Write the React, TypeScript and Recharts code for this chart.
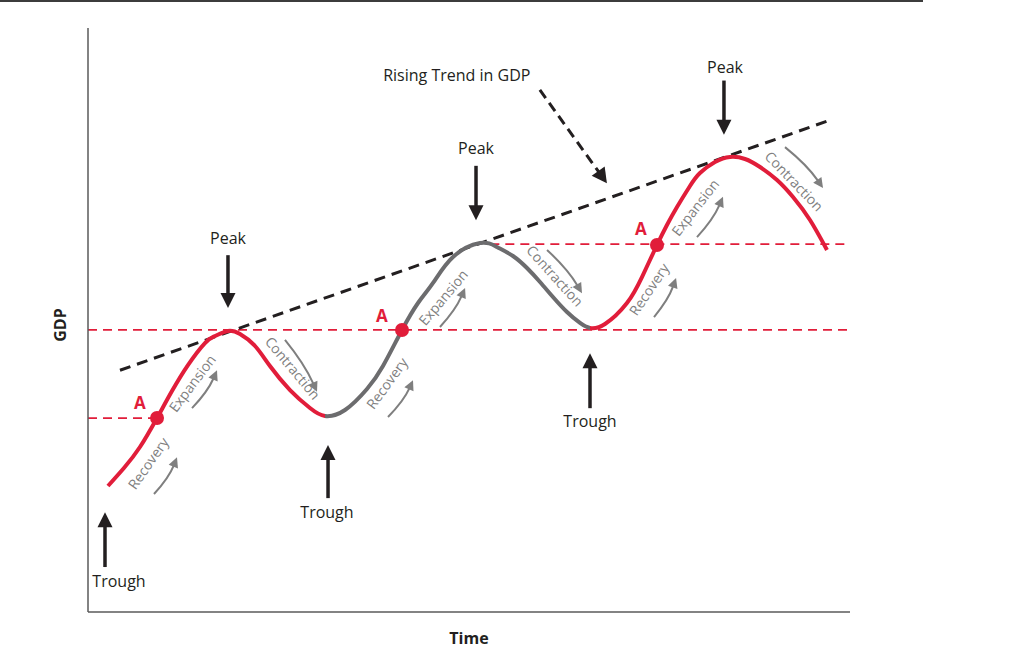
import React from 'react';
import { ComposedChart, Line, XAxis, YAxis, ReferenceLine, ReferenceDot } from 'recharts';

const FONT = '"Open Sans", "Noto Sans", sans-serif';
const RED = '#e11d3a';
const GRAY = '#6c6c6e';
const TEXT_GRAY = '#7f7f7f';
const INK = '#231f20';

// ---- GDP path (time 0-100, GDP index 0-100) ----
const firstCycle = [
  { t: 2.62, g: 21.58 }, { t: 4.72, g: 24.66 }, { t: 6.82, g: 28.25 }, { t: 9.06, g: 33.22 },
  { t: 11.02, g: 37.84 }, { t: 13.12, g: 42.29 }, { t: 15.35, g: 46.06 }, { t: 16.67, g: 47.26 },
  { t: 18.37, g: 48.12 }, { t: 19.95, g: 47.6 }, { t: 21.92, g: 45.55 }, { t: 23.88, g: 42.12 },
  { t: 26.51, g: 38.01 }, { t: 29.13, g: 34.93 }, { t: 31.1, g: 33.56 },
];
const secondCycle = [
  { t: 31.1, g: 33.56 }, { t: 33.73, g: 34.59 }, { t: 36.61, g: 38.18 }, { t: 38.71, g: 42.12 },
  { t: 41.21, g: 48.29 }, { t: 43.31, g: 52.91 }, { t: 45.28, g: 56.34 }, { t: 47.9, g: 60.79 },
  { t: 51.44, g: 63.18 }, { t: 53.67, g: 62.5 }, { t: 55.77, g: 60.96 }, { t: 57.61, g: 58.9 },
  { t: 59.32, g: 56.51 }, { t: 61.02, g: 53.94 }, { t: 62.86, g: 51.37 }, { t: 64.57, g: 49.49 },
  { t: 65.88, g: 48.63 },
];
const thirdCycle = [
  { t: 65.88, g: 48.63 }, { t: 67.85, g: 49.32 }, { t: 70.73, g: 52.91 }, { t: 72.7, g: 57.36 },
  { t: 74.67, g: 62.84 }, { t: 75.98, g: 66.27 }, { t: 77.3, g: 69.35 }, { t: 79.0, g: 72.95 },
  { t: 80.31, g: 75.17 }, { t: 82.28, g: 77.05 }, { t: 84.25, g: 77.91 }, { t: 86.22, g: 77.57 },
  { t: 88.19, g: 76.2 }, { t: 90.42, g: 73.97 }, { t: 92.52, g: 71.06 }, { t: 94.75, g: 67.12 },
  { t: 96.98, g: 61.99 },
];

// ---- reference levels and trend ----
const levelLines = [
  { from: 0, to: 9.06, g: 33.2 },
  { from: 0, to: 100, g: 48.3 },
  { from: 52.8, to: 100, g: 63.0 },
];
const trendLine = [{ t: 4.2, g: 41.4 }, { t: 97.1, g: 84.1 }];
const trendArrow = [{ t: 59.3, g: 89.4 }, { t: 68.1, g: 73.4 }];
const trendLabel = { text: 'Rising Trend in GDP', t: 48.4, g: 91.95 };

// ---- points A ----
const pointsA = [{ t: 9.06, g: 33.22 }, { t: 41.21, g: 48.29 }, { t: 74.67, g: 62.84 }];
const labelsA = [{ t: 6.82, g: 35.8 }, { t: 38.58, g: 50.7 }, { t: 72.57, g: 65.6 }];

// ---- peaks & troughs ----
const peakLabels = [{ t: 18.37, g: 64.0 }, { t: 50.92, g: 79.45 }, { t: 83.6, g: 93.3 }];
const peakArrows = [
  { t: 18.37, from: 61.1, to: 52.05 },
  { t: 50.92, from: 76.4, to: 67.1 },
  { t: 83.46, from: 91.0, to: 81.7 },
];
const troughLabels = [{ t: 4.07, g: 5.3 }, { t: 31.36, g: 17.1 }, { t: 65.88, g: 32.7 }];
const troughArrows = [
  { t: 2.23, from: 7.7, to: 17.1 },
  { t: 31.5, from: 19.5, to: 28.6 },
  { t: 65.88, from: 34.9, to: 44.3 },
];

// ---- phase labels and their small arrows ----
const phaseLabels = [
  { text: 'Recovery', t: 7.87, g: 25.5, angle: -55 },
  { text: 'Expansion', t: 13.65, g: 39.2, angle: -53 },
  { text: 'Contraction', t: 26.9, g: 41.8, angle: 50 },
  { text: 'Recovery', t: 39.2, g: 39.2, angle: -54 },
  { text: 'Expansion', t: 46.59, g: 53.9, angle: -50 },
  { text: 'Contraction', t: 61.3, g: 57.6, angle: 48 },
  { text: 'Recovery', t: 73.6, g: 55.3, angle: -56 },
  { text: 'Expansion', t: 79.66, g: 69.3, angle: -52 },
  { text: 'Contraction', t: 92.7, g: 73.8, angle: 46 },
];
const phaseArrows = [
  { t1: 8.66, g1: 20.2, t2: 11.68, g2: 26.5, bow: 2 },
  { t1: 13.65, g1: 34.9, t2: 16.93, g2: 41.4, bow: 2 },
  { t1: 25.85, g1: 46.6, t2: 30.05, g2: 37.7, bow: -2 },
  { t1: 39.37, g1: 33.4, t2: 42.65, g2: 39.7, bow: 2 },
  { t1: 46.19, g1: 48.8, t2: 49.48, g2: 55.5, bow: 2 },
  { t1: 60.24, g1: 62.0, t2: 64.83, g2: 54.6, bow: -2 },
  { t1: 74.28, g1: 50.5, t2: 77.17, g2: 57.2, bow: 2 },
  { t1: 79.92, g1: 64.2, t2: 83.33, g2: 71.1, bow: 2 },
  { t1: 91.47, g1: 79.6, t2: 96.46, g2: 72.6, bow: -2 },
];

// one continuous path; colour switches at the two troughs via a hard-stop gradient
const gdpPath = [...firstCycle, ...secondCycle.slice(1), ...thirdCycle.slice(1)];
const tStart = gdpPath[0].t;
const tEnd = gdpPath[gdpPath.length - 1].t;
const cut1 = (secondCycle[0].t - tStart) / (tEnd - tStart);
const cut2 = (thirdCycle[0].t - tStart) / (tEnd - tStart);

// ---- shapes ----
const head = (x2: number, y2: number, ux: number, uy: number, len: number, half: number, fill: string) => {
  const bx = x2 - ux * len;
  const by = y2 - uy * len;
  const px = -uy;
  const py = ux;
  return (
    <polygon
      points={`${x2},${y2} ${bx + px * half},${by + py * half} ${bx - px * half},${by - py * half}`}
      fill={fill}
    />
  );
};

const SolidArrow = (p: any) => {
  const { x1, y1, x2, y2 } = p;
  const dx = x2 - x1;
  const dy = y2 - y1;
  const L = Math.hypot(dx, dy) || 1;
  const ux = dx / L;
  const uy = dy / L;
  const hl = 15;
  return (
    <g>
      <line x1={x1} y1={y1} x2={x2 - ux * (hl - 1)} y2={y2 - uy * (hl - 1)} stroke={INK} strokeWidth={3.5} />
      {head(x2, y2, ux, uy, hl, 7.5, INK)}
    </g>
  );
};

const DashedArrow = (p: any) => {
  const { x1, y1, x2, y2 } = p;
  const dx = x2 - x1;
  const dy = y2 - y1;
  const L = Math.hypot(dx, dy) || 1;
  const ux = dx / L;
  const uy = dy / L;
  const hl = 15;
  return (
    <g>
      <line
        x1={x1}
        y1={y1}
        x2={x2 - ux * (hl - 1)}
        y2={y2 - uy * (hl - 1)}
        stroke={INK}
        strokeWidth={3}
        strokeDasharray="10 6"
      />
      {head(x2, y2, ux, uy, hl, 8, INK)}
    </g>
  );
};

const makeCurvedArrow = (bow: number) => (p: any) => {
  const { x1, y1, x2, y2 } = p;
  const dx = x2 - x1;
  const dy = y2 - y1;
  const L = Math.hypot(dx, dy) || 1;
  const ux = dx / L;
  const uy = dy / L;
  const cx = (x1 + x2) / 2 - uy * bow * 2;
  const cy = (y1 + y2) / 2 + ux * bow * 2;
  const ex = x2 - cx;
  const ey = y2 - cy;
  const EL = Math.hypot(ex, ey) || 1;
  const eux = ex / EL;
  const euy = ey / EL;
  const hl = 10;
  const sx = x2 - eux * (hl - 1);
  const sy = y2 - euy * (hl - 1);
  return (
    <g>
      <path d={`M${x1},${y1} Q${cx},${cy} ${sx},${sy}`} stroke={TEXT_GRAY} strokeWidth={2} fill="none" />
      {head(x2, y2, eux, euy, hl, 5, TEXT_GRAY)}
    </g>
  );
};

const makeText = (
  text: string,
  opts: { size: number; fill: string; weight?: number | string; angle?: number }
) => (p: any) => (
  <text
    x={p.cx}
    y={p.cy}
    textAnchor="middle"
    dominantBaseline="central"
    fontFamily={FONT}
    fontSize={opts.size}
    fontWeight={opts.weight ?? 400}
    fill={opts.fill}
    transform={opts.angle ? `rotate(${opts.angle} ${p.cx} ${p.cy})` : undefined}
  >
    {text}
  </text>
);

const RedDot = (p: any) => <circle cx={p.cx} cy={p.cy} r={7} fill={RED} />;

export default function App() {
  return (
    <div style={{ position: 'fixed', left: 0, top: 0, width: 1024, height: 670, background: '#fff' }}>
      <ComposedChart
        width={1024}
        height={670}
        margin={{ top: 28, right: 174, bottom: 0, left: 0 }}
      >
        <defs>
          <linearGradient id="cycleStroke" x1="0" y1="0" x2="1" y2="0">
            <stop offset={0} stopColor={RED} />
            <stop offset={cut1} stopColor={RED} />
            <stop offset={cut1} stopColor={GRAY} />
            <stop offset={cut2} stopColor={GRAY} />
            <stop offset={cut2} stopColor={RED} />
            <stop offset={1} stopColor={RED} />
          </linearGradient>
        </defs>
        <XAxis
          type="number"
          dataKey="t"
          domain={[0, 100]}
          allowDataOverflow
          tick={false}
          tickLine={false}
          axisLine={{ stroke: '#5a5a5a', strokeWidth: 1.5 }}
          height={58}
          label={{
            content: (props: any) => {
              const vb = props.viewBox || { x: 88, y: 612, width: 762, height: 58 };
              return (
                <text
                  x={vb.x + vb.width / 2}
                  y={vb.y + 32}
                  textAnchor="middle"
                  fontFamily={FONT}
                  fontWeight={700}
                  fontSize={16}
                  fill={INK}
                >
                  Time
                </text>
              );
            },
          }}
        />
        <YAxis
          type="number"
          dataKey="g"
          domain={[0, 100]}
          allowDataOverflow
          tick={false}
          tickLine={false}
          axisLine={{ stroke: '#5a5a5a', strokeWidth: 1.5 }}
          width={88}
          label={{
            content: (props: any) => {
              const vb = props.viewBox || { x: 0, y: 28, width: 88, height: 584 };
              const cx = vb.x + 60;
              const cy = vb.y + vb.height / 2 + 5;
              return (
                <text
                  x={cx}
                  y={cy}
                  textAnchor="middle"
                  dominantBaseline="central"
                  fontFamily={FONT}
                  fontWeight={700}
                  fontSize={16}
                  fill={INK}
                  transform={`rotate(-90 ${cx} ${cy})`}
                >
                  GDP
                </text>
              );
            },
          }}
        />

        {levelLines.map((l, i) => (
          <ReferenceLine
            key={`lvl${i}`}
            segment={[{ x: l.from, y: l.g }, { x: l.to, y: l.g }]}
            stroke={RED}
            strokeWidth={1.8}
            strokeDasharray="9 6"
            ifOverflow="visible"
          />
        ))}

        <ReferenceLine
          segment={[{ x: trendLine[0].t, y: trendLine[0].g }, { x: trendLine[1].t, y: trendLine[1].g }]}
          stroke={INK}
          strokeWidth={3}
          strokeDasharray="11 7"
          ifOverflow="visible"
        />

        <Line
          data={gdpPath}
          dataKey="g"
          type="natural"
          stroke="url(#cycleStroke)"
          strokeWidth={4}
          dot={false}
          activeDot={false}
          isAnimationActive={false}
        />

        <ReferenceLine
          segment={[{ x: trendArrow[0].t, y: trendArrow[0].g }, { x: trendArrow[1].t, y: trendArrow[1].g }]}
          shape={DashedArrow}
          ifOverflow="visible"
        />

        {peakArrows.map((a, i) => (
          <ReferenceLine
            key={`pa${i}`}
            segment={[{ x: a.t, y: a.from }, { x: a.t, y: a.to }]}
            shape={SolidArrow}
            ifOverflow="visible"
          />
        ))}
        {troughArrows.map((a, i) => (
          <ReferenceLine
            key={`ta${i}`}
            segment={[{ x: a.t, y: a.from }, { x: a.t, y: a.to }]}
            shape={SolidArrow}
            ifOverflow="visible"
          />
        ))}
        {phaseArrows.map((a, i) => (
          <ReferenceLine
            key={`pha${i}`}
            segment={[{ x: a.t1, y: a.g1 }, { x: a.t2, y: a.g2 }]}
            shape={makeCurvedArrow(a.bow)}
            ifOverflow="visible"
          />
        ))}

        {pointsA.map((p, i) => (
          <ReferenceDot key={`dot${i}`} x={p.t} y={p.g} r={7} shape={RedDot} ifOverflow="visible" />
        ))}
        {labelsA.map((p, i) => (
          <ReferenceDot
            key={`la${i}`}
            x={p.t}
            y={p.g}
            r={1}
            shape={makeText('A', { size: 17, fill: RED, weight: 700 })}
            ifOverflow="visible"
          />
        ))}
        {peakLabels.map((p, i) => (
          <ReferenceDot
            key={`pl${i}`}
            x={p.t}
            y={p.g}
            r={1}
            shape={makeText('Peak', { size: 16, fill: INK })}
            ifOverflow="visible"
          />
        ))}
        {troughLabels.map((p, i) => (
          <ReferenceDot
            key={`tl${i}`}
            x={p.t}
            y={p.g}
            r={1}
            shape={makeText('Trough', { size: 16, fill: INK })}
            ifOverflow="visible"
          />
        ))}
        {phaseLabels.map((p, i) => (
          <ReferenceDot
            key={`phl${i}`}
            x={p.t}
            y={p.g}
            r={1}
            shape={makeText(p.text, { size: 14, fill: TEXT_GRAY, angle: p.angle })}
            ifOverflow="visible"
          />
        ))}
        <ReferenceDot
          x={trendLabel.t}
          y={trendLabel.g}
          r={1}
          shape={makeText(trendLabel.text, { size: 16, fill: INK })}
          ifOverflow="visible"
        />
      </ComposedChart>
      <div
        style={{
          position: 'absolute',
          left: 0,
          top: 0,
          width: 923,
          height: 2,
          background: '#3c3c3c',
          zIndex: 1000,
        }}
      />
    </div>
  );
}
